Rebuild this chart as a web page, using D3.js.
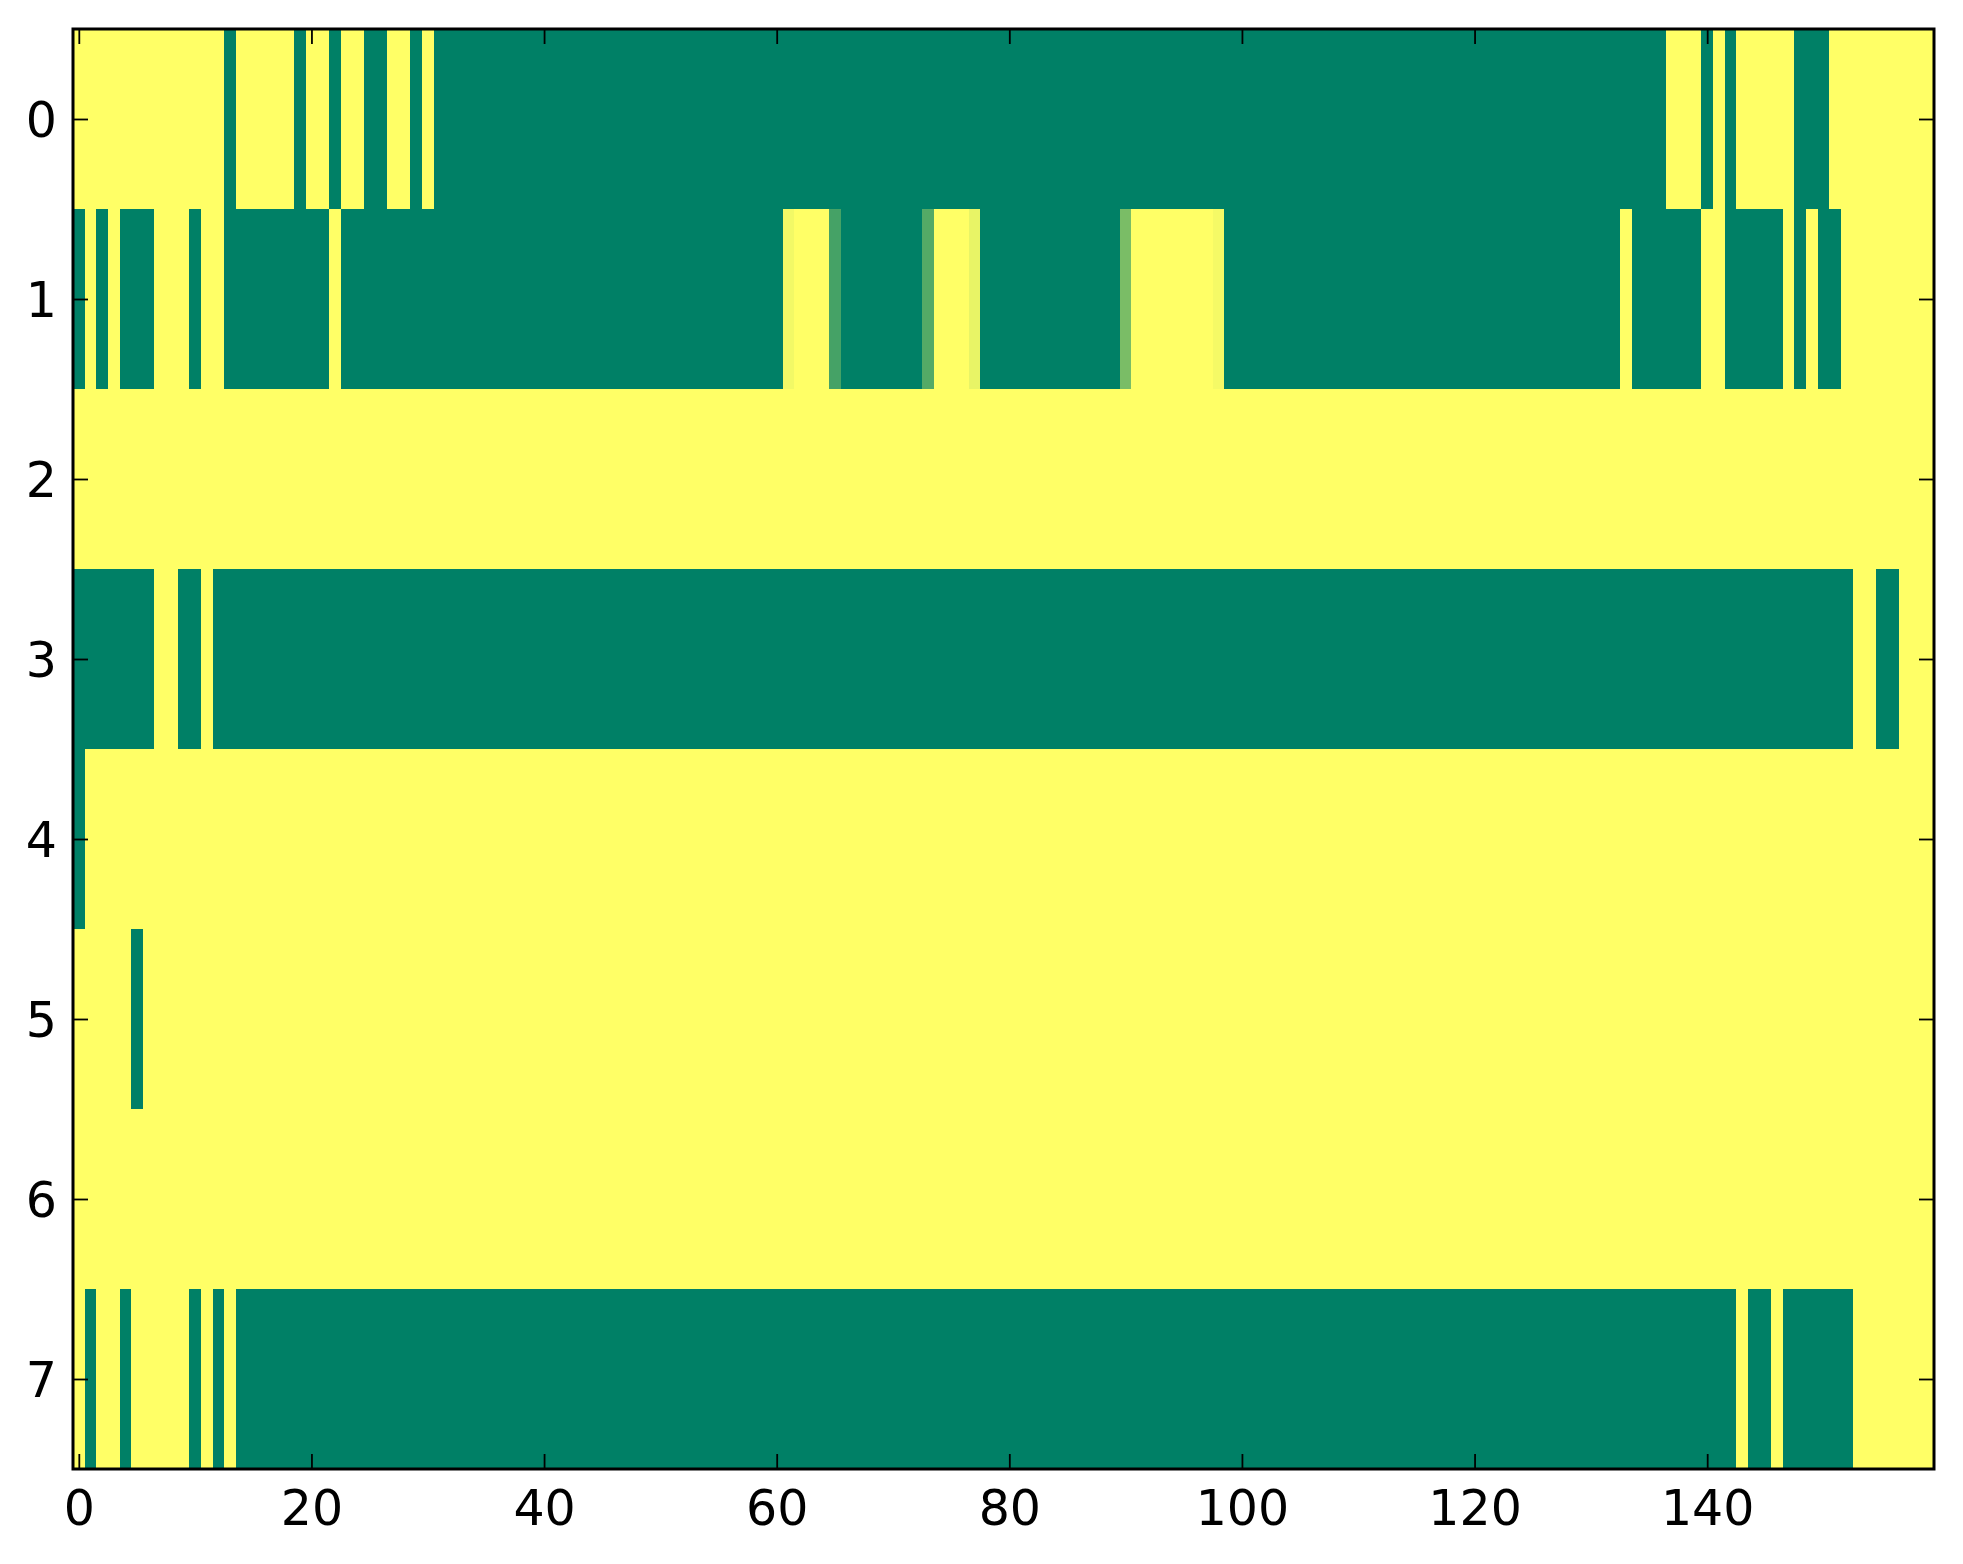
<!DOCTYPE html>
<html>
<head>
<meta charset="utf-8">
<script src="https://cdn.jsdelivr.net/npm/d3@7"></script>
<style>
  html, body { margin: 0; padding: 0; background: #ffffff; }
  svg { display: block; }
</style>
</head>
<body>
<script>
// ---- DATA (0 = low / green, 1 = high / yellow) ----
const rowLabels = [0, 1, 2, 3, 4, 5, 6, 7];
const xTickValues = [0, 20, 40, 60, 80, 100, 120, 140];
const nCols = 160;

const row0 = [
  1,1,1,1,1,1,1,1,1,1,
  1,1,1,0,1,1,1,1,1,0,
  1,1,0,1,1,0,0,1,1,0,
  1,0,0,0,0,0,0,0,0,0,
  0,0,0,0,0,0,0,0,0,0,
  0,0,0,0,0,0,0,0,0,0,
  0,0,0,0,0,0,0,0,0,0,
  0,0,0,0,0,0,0,0,0,0,
  0,0,0,0,0,0,0,0,0,0,
  0,0,0,0,0,0,0,0,0,0,
  0,0,0,0,0,0,0,0,0,0,
  0,0,0,0,0,0,0,0,0,0,
  0,0,0,0,0,0,0,0,0,0,
  0,0,0,0,0,0,0,1,1,1,
  0,1,0,1,1,1,1,1,0,0,
  0,1,1,1,1,1,1,1,1,1
];
const row1 = [
  0,1,0,1,0,0,0,1,1,1,
  0,1,1,0,0,0,0,0,0,0,
  0,0,1,0,0,0,0,0,0,0,
  0,0,0,0,0,0,0,0,0,0,
  0,0,0,0,0,0,0,0,0,0,
  0,0,0,0,0,0,0,0,0,0,
  0,0.95,1,1,1,0.27,0,0,0,0,
  0,0,0,0.33,1,1,1,0.91,0,0,
  0,0,0,0,0,0,0,0,0,0,
  0.48,1,1,1,1,1,1,1,0.96,0,
  0,0,0,0,0,0,0,0,0,0,
  0,0,0,0,0,0,0,0,0,0,
  0,0,0,0,0,0,0,0,0,0,
  0,0,0,1,0,0,0,0,0,0,
  1,1,0,0,0,0,0,1,0,1,
  0,0,1,1,1,1,1,1,1,1
];
const row2 = [
  1,1,1,1,1,1,1,1,1,1,
  1,1,1,1,1,1,1,1,1,1,
  1,1,1,1,1,1,1,1,1,1,
  1,1,1,1,1,1,1,1,1,1,
  1,1,1,1,1,1,1,1,1,1,
  1,1,1,1,1,1,1,1,1,1,
  1,1,1,1,1,1,1,1,1,1,
  1,1,1,1,1,1,1,1,1,1,
  1,1,1,1,1,1,1,1,1,1,
  1,1,1,1,1,1,1,1,1,1,
  1,1,1,1,1,1,1,1,1,1,
  1,1,1,1,1,1,1,1,1,1,
  1,1,1,1,1,1,1,1,1,1,
  1,1,1,1,1,1,1,1,1,1,
  1,1,1,1,1,1,1,1,1,1,
  1,1,1,1,1,1,1,1,1,1
];
const row3 = [
  0,0,0,0,0,0,0,1,1,0,
  0,1,0,0,0,0,0,0,0,0,
  0,0,0,0,0,0,0,0,0,0,
  0,0,0,0,0,0,0,0,0,0,
  0,0,0,0,0,0,0,0,0,0,
  0,0,0,0,0,0,0,0,0,0,
  0,0,0,0,0,0,0,0,0,0,
  0,0,0,0,0,0,0,0,0,0,
  0,0,0,0,0,0,0,0,0,0,
  0,0,0,0,0,0,0,0,0,0,
  0,0,0,0,0,0,0,0,0,0,
  0,0,0,0,0,0,0,0,0,0,
  0,0,0,0,0,0,0,0,0,0,
  0,0,0,0,0,0,0,0,0,0,
  0,0,0,0,0,0,0,0,0,0,
  0,0,0,1,1,0,0,1,1,1
];
const row4 = [
  0,1,1,1,1,1,1,1,1,1,
  1,1,1,1,1,1,1,1,1,1,
  1,1,1,1,1,1,1,1,1,1,
  1,1,1,1,1,1,1,1,1,1,
  1,1,1,1,1,1,1,1,1,1,
  1,1,1,1,1,1,1,1,1,1,
  1,1,1,1,1,1,1,1,1,1,
  1,1,1,1,1,1,1,1,1,1,
  1,1,1,1,1,1,1,1,1,1,
  1,1,1,1,1,1,1,1,1,1,
  1,1,1,1,1,1,1,1,1,1,
  1,1,1,1,1,1,1,1,1,1,
  1,1,1,1,1,1,1,1,1,1,
  1,1,1,1,1,1,1,1,1,1,
  1,1,1,1,1,1,1,1,1,1,
  1,1,1,1,1,1,1,1,1,1
];
const row5 = [
  1,1,1,1,1,0,1,1,1,1,
  1,1,1,1,1,1,1,1,1,1,
  1,1,1,1,1,1,1,1,1,1,
  1,1,1,1,1,1,1,1,1,1,
  1,1,1,1,1,1,1,1,1,1,
  1,1,1,1,1,1,1,1,1,1,
  1,1,1,1,1,1,1,1,1,1,
  1,1,1,1,1,1,1,1,1,1,
  1,1,1,1,1,1,1,1,1,1,
  1,1,1,1,1,1,1,1,1,1,
  1,1,1,1,1,1,1,1,1,1,
  1,1,1,1,1,1,1,1,1,1,
  1,1,1,1,1,1,1,1,1,1,
  1,1,1,1,1,1,1,1,1,1,
  1,1,1,1,1,1,1,1,1,1,
  1,1,1,1,1,1,1,1,1,1
];
const row6 = [
  1,1,1,1,1,1,1,1,1,1,
  1,1,1,1,1,1,1,1,1,1,
  1,1,1,1,1,1,1,1,1,1,
  1,1,1,1,1,1,1,1,1,1,
  1,1,1,1,1,1,1,1,1,1,
  1,1,1,1,1,1,1,1,1,1,
  1,1,1,1,1,1,1,1,1,1,
  1,1,1,1,1,1,1,1,1,1,
  1,1,1,1,1,1,1,1,1,1,
  1,1,1,1,1,1,1,1,1,1,
  1,1,1,1,1,1,1,1,1,1,
  1,1,1,1,1,1,1,1,1,1,
  1,1,1,1,1,1,1,1,1,1,
  1,1,1,1,1,1,1,1,1,1,
  1,1,1,1,1,1,1,1,1,1,
  1,1,1,1,1,1,1,1,1,1
];
const row7 = [
  1,0,1,1,0,1,1,1,1,1,
  0,1,0,1,0,0,0,0,0,0,
  0,0,0,0,0,0,0,0,0,0,
  0,0,0,0,0,0,0,0,0,0,
  0,0,0,0,0,0,0,0,0,0,
  0,0,0,0,0,0,0,0,0,0,
  0,0,0,0,0,0,0,0,0,0,
  0,0,0,0,0,0,0,0,0,0,
  0,0,0,0,0,0,0,0,0,0,
  0,0,0,0,0,0,0,0,0,0,
  0,0,0,0,0,0,0,0,0,0,
  0,0,0,0,0,0,0,0,0,0,
  0,0,0,0,0,0,0,0,0,0,
  0,0,0,0,0,0,0,0,0,0,
  0,0,0,1,0,0,1,0,0,0,
  0,0,0,1,1,1,1,1,1,1
];
const rows = [row0, row1, row2, row3, row4, row5, row6, row7];

// ---- LAYOUT ----
const W = 1963, H = 1564;
const plot = { left: 73, right: 1934, top: 29, bottom: 1469 };

const svg = d3.select("body").append("svg")
  .attr("width", W).attr("height", H)
  .style("background", "#ffffff");

const x = d3.scaleLinear().domain([-0.5, nCols - 0.5]).range([plot.left, plot.right]);
const y = d3.scaleLinear().domain([-0.5, rowLabels.length - 0.5]).range([plot.top, plot.bottom]);

// summer colormap: linear from (0,0.5,0.4) to (1,1,0.4)
const color = d3.scaleLinear().domain([0, 1]).range(["#008066", "#ffff66"]).interpolate(d3.interpolateRgb);

const cells = [];
rows.forEach((r, ri) => r.forEach((v, ci) => cells.push({ r: ri, c: ci, v: v })));

svg.append("g")
  .attr("shape-rendering", "crispEdges")
  .selectAll("rect")
  .data(cells)
  .join("rect")
  .attr("x", d => x(d.c - 0.5))
  .attr("y", d => y(d.r - 0.5))
  .attr("width", d => x(d.c + 0.5) - x(d.c - 0.5) + 0.6)
  .attr("height", d => y(d.r + 0.5) - y(d.r - 0.5) + 0.6)
  .attr("fill", d => color(d.v));

const tickLen = 15;
const fontFamily = "'DejaVu Sans', sans-serif";
const fontSize = 49;

function styleAxis(g) {
  g.select(".domain").remove();
  g.selectAll(".tick line").attr("stroke", "#000").attr("stroke-width", 1.8);
  g.selectAll(".tick text").attr("fill", "#000")
    .style("font-family", fontFamily).style("font-size", fontSize + "px");
}

// bottom axis (ticks inward)
svg.append("g")
  .attr("transform", `translate(0,${plot.bottom})`)
  .call(d3.axisBottom(x).tickValues(xTickValues).tickSizeInner(-tickLen).tickSizeOuter(0).tickFormat(d3.format("d")))
  .call(styleAxis)
  .call(g => g.selectAll(".tick text").attr("y", 56).attr("dy", null));

// top axis (ticks only)
svg.append("g")
  .attr("transform", `translate(0,${plot.top})`)
  .call(d3.axisTop(x).tickValues(xTickValues).tickSizeInner(-tickLen).tickSizeOuter(0).tickFormat(""))
  .call(styleAxis);

// left axis
svg.append("g")
  .attr("transform", `translate(${plot.left},0)`)
  .call(d3.axisLeft(y).tickValues(rowLabels).tickSizeInner(-tickLen).tickSizeOuter(0).tickFormat(d3.format("d")))
  .call(styleAxis)
  .call(g => g.selectAll(".tick text").attr("x", -16).attr("dy", "0.36em"));

// right axis (ticks only)
svg.append("g")
  .attr("transform", `translate(${plot.right},0)`)
  .call(d3.axisRight(y).tickValues(rowLabels).tickSizeInner(-tickLen).tickSizeOuter(0).tickFormat(""))
  .call(styleAxis);

// spines
svg.append("rect")
  .attr("x", plot.left).attr("y", plot.top)
  .attr("width", plot.right - plot.left).attr("height", plot.bottom - plot.top)
  .attr("fill", "none").attr("stroke", "#000").attr("stroke-width", 3);
</script>
</body>
</html>
